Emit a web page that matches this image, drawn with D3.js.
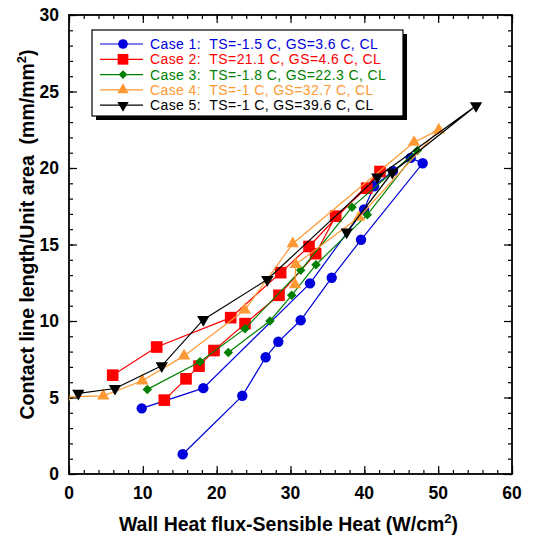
<!DOCTYPE html>
<html>
<head>
<meta charset="utf-8">
<script src="https://cdn.jsdelivr.net/npm/d3@7"></script>
<style>
  body { margin: 0; background: #fff; }
  svg { display: block; font-family: "Liberation Sans", Arial, Helvetica, sans-serif; }
</style>
</head>
<body>
<svg id="chart" width="543" height="540"></svg>
<script>
// series values, in the order they were recorded (heating up, then back down)
var case1X = [9.85, 18.19, 32.64, 39.96, 41.31, 43.88, 46.28, 47.90, 39.55, 35.58, 31.38, 28.35, 26.64, 23.47, 15.40];
var case1Y = [4.29, 5.61, 12.46, 17.29, 18.81, 19.81, 20.66, 20.31, 15.31, 12.83, 10.05, 8.64, 7.63, 5.11, 1.29];

var case2X = [12.91, 15.85, 17.61, 19.64, 23.84, 28.44, 33.41, 36.12, 40.32, 42.12, 32.51, 28.67, 21.90, 11.88, 5.92];
var case2Y = [4.83, 6.22, 7.05, 8.07, 9.83, 11.68, 14.40, 16.85, 18.68, 19.77, 14.87, 13.16, 10.22, 8.30, 6.46];

var case3X = [10.61, 17.74, 23.84, 31.38, 38.33, 47.18, 40.40, 33.45, 30.16, 27.22, 21.58];
var case3Y = [5.53, 7.33, 9.50, 13.31, 17.44, 21.14, 16.94, 13.68, 11.68, 10.00, 7.94];

var case4X = [-0.6, 4.65, 9.93, 15.58, 23.80, 30.30, 46.73, 50.08, 39.28, 30.71, 30.61];
var case4Y = [5.03, 5.11, 6.09, 7.72, 10.72, 15.05, 21.68, 22.49, 16.78, 13.70, 12.37];

var case5X = [1.26, 6.23, 12.56, 18.19, 26.86, 41.76, 55.13, 43.79, 37.61];
var case5Y = [5.27, 5.59, 7.07, 10.09, 12.71, 19.40, 24.07, 19.72, 15.81];

var seriesNames = [
  'Case 1:  TS=-1.5 C, GS=3.6 C, CL',
  'Case 2:  TS=21.1 C, GS=4.6 C, CL',
  'Case 3:  TS=-1.8 C, GS=22.3 C, CL',
  'Case 4:  TS=-1 C, GS=32.7 C, CL',
  'Case 5:  TS=-1 C, GS=39.6 C, CL'
];
var seriesColors = ['#0000dd', '#ff0000', '#008000', '#ff9933', '#000000'];

var xTickValues = [0, 10, 20, 30, 40, 50, 60];
var yTickValues = [0, 5, 10, 15, 20, 25, 30];
var xLabel = 'Wall Heat flux-Sensible Heat (W/cm';
var yLabel = 'Contact line length/Unit area  (mm/mm';

var allX = [case1X, case2X, case3X, case4X, case5X];
var allY = [case1Y, case2Y, case3Y, case4Y, case5Y];

// marker shapes per series
var markerDefs = [
  { type: d3.symbolCircle, size: 85, rotate: 0 },
  { type: d3.symbolSquare, size: 135, rotate: 0 },
  { type: d3.symbolSquare, size: 45, rotate: 45 },
  { type: d3.symbolTriangle, size: 66, rotate: 0 },
  { type: d3.symbolTriangle, size: 66, rotate: 180 }
];

var margin = { top: 15, left: 69, right: 31, bottom: 66 };
var W = 543, H = 540;
var innerW = W - margin.left - margin.right,
    innerH = H - margin.top - margin.bottom;

var svg = d3.select('#chart');
var g = svg.append('g').attr('transform', 'translate(' + margin.left + ',' + margin.top + ')');

var x = d3.scaleLinear().domain([0, 60]).range([0, innerW]);
var y = d3.scaleLinear().domain([0, 30]).range([innerH, 0]);

// minor ticks (inward, all four sides)
var xMinor = d3.range(0, 61, 2), yMinor = d3.range(0, 31, 1);
function tickStyle(sel) {
  sel.select('.domain').remove();
  sel.selectAll('line').attr('stroke', '#000').attr('stroke-width', 1.2);
  sel.selectAll('text').remove();
}
g.append('g').attr('transform', 'translate(0,' + innerH + ')')
  .call(d3.axisBottom(x).tickValues(xMinor).tickSize(-4)).call(tickStyle);
g.append('g').call(d3.axisTop(x).tickValues(xMinor).tickSize(-4)).call(tickStyle);
g.append('g').call(d3.axisLeft(y).tickValues(yMinor).tickSize(-4)).call(tickStyle);
g.append('g').attr('transform', 'translate(' + innerW + ',0)')
  .call(d3.axisRight(y).tickValues(yMinor).tickSize(-4)).call(tickStyle);

// major ticks
g.append('g').attr('transform', 'translate(0,' + innerH + ')')
  .call(d3.axisBottom(x).tickValues(xTickValues).tickSize(-8)).call(tickStyle);
g.append('g').call(d3.axisTop(x).tickValues(xTickValues).tickSize(-8)).call(tickStyle);
g.append('g').call(d3.axisLeft(y).tickValues(yTickValues).tickSize(-8)).call(tickStyle);
g.append('g').attr('transform', 'translate(' + innerW + ',0)')
  .call(d3.axisRight(y).tickValues(yTickValues).tickSize(-8)).call(tickStyle);

// tick labels
g.append('g').selectAll('text').data(xTickValues).enter().append('text')
  .attr('x', function(d) { return x(d); })
  .attr('y', innerH + 25)
  .attr('text-anchor', 'middle')
  .attr('font-size', 17.5).attr('font-weight', 'bold')
  .text(function(d) { return d; });
g.append('g').selectAll('text').data(yTickValues).enter().append('text')
  .attr('x', -10)
  .attr('y', function(d) { return y(d) + 6; })
  .attr('text-anchor', 'end')
  .attr('font-size', 17.5).attr('font-weight', 'bold')
  .text(function(d) { return d; });

// frame
g.append('rect').attr('width', innerW).attr('height', innerH)
  .attr('fill', 'none').attr('stroke', '#000').attr('stroke-width', 1.8);

// axis titles
var xt = svg.append('text')
  .attr('x', margin.left + innerW / 2 - 2).attr('y', 531)
  .attr('text-anchor', 'middle').attr('font-size', 19.5).attr('font-weight', 'bold');
xt.append('tspan').text(xLabel);
xt.append('tspan').attr('dy', -8).attr('font-size', 13).text('2');
xt.append('tspan').attr('dy', 8).text(')');

var yt = svg.append('text')
  .attr('transform', 'translate(34,' + (margin.top + innerH / 2 - 10) + ') rotate(-90)')
  .attr('text-anchor', 'middle').attr('font-size', 19.5).attr('font-weight', 'bold')
  .attr('xml:space', 'preserve').style('white-space', 'pre');
yt.append('tspan').text(yLabel);
yt.append('tspan').attr('dy', -8).attr('font-size', 13).text('2');
yt.append('tspan').attr('dy', 8).text(')');

// clip to plot area
svg.append('defs').append('clipPath').attr('id', 'plotClip')
  .append('rect').attr('width', innerW).attr('height', innerH);

var plot = g.append('g').attr('clip-path', 'url(#plotClip)');
var lineGen = d3.line().x(function(d) { return x(d[0]); }).y(function(d) { return y(d[1]); });

allX.forEach(function(xs, i) {
  var pts = xs.map(function(v, j) { return [v, allY[i][j]]; });
  var sg = plot.append('g').attr('class', 'series-' + (i + 1));
  sg.append('path').datum(pts)
    .attr('d', lineGen)
    .attr('fill', 'none')
    .attr('stroke', seriesColors[i])
    .attr('stroke-width', 1.2);
  var m = markerDefs[i];
  sg.selectAll('path.mark').data(pts).enter().append('path')
    .attr('class', 'mark')
    .attr('d', d3.symbol().type(m.type).size(m.size))
    .attr('transform', function(d) {
      return 'translate(' + x(d[0]) + ',' + y(d[1]) + ') rotate(' + m.rotate + ')';
    })
    .attr('fill', seriesColors[i]);
});

// legend
var lg = svg.append('g').attr('transform', 'translate(92,30)');
lg.append('rect').attr('x', 4).attr('y', 4).attr('width', 311).attr('height', 86).attr('fill', '#000');
lg.append('rect').attr('width', 311).attr('height', 86)
  .attr('fill', '#fff').attr('stroke', '#000').attr('stroke-width', 1.2);
seriesNames.forEach(function(name, i) {
  var ry = 14 + i * 15.3;
  lg.append('line').attr('x1', 8).attr('x2', 51).attr('y1', ry).attr('y2', ry)
    .attr('stroke', seriesColors[i]).attr('stroke-width', 1.2);
  var m = markerDefs[i];
  lg.append('path')
    .attr('d', d3.symbol().type(m.type).size(m.size * 0.85))
    .attr('transform', 'translate(31,' + ry + ') rotate(' + m.rotate + ')')
    .attr('fill', seriesColors[i]);
  lg.append('text').attr('x', 58).attr('y', ry + 5)
    .attr('font-size', 14).attr('fill', seriesColors[i])
    .attr('letter-spacing', 0.4)
    .attr('xml:space', 'preserve').style('white-space', 'pre')
    .text(name);
});
</script>
</body>
</html>
